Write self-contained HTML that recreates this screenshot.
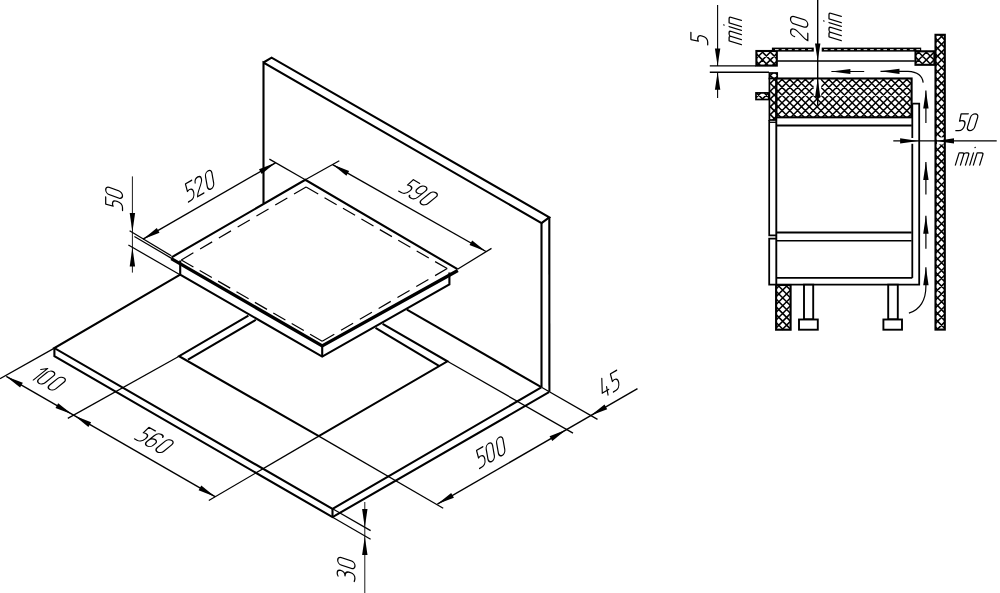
<!DOCTYPE html>
<html><head><meta charset="utf-8"><title>Hob installation</title>
<style>
html,body{margin:0;padding:0;background:#fff;font-family:"Liberation Sans",sans-serif;}
svg{display:block}
</style></head>
<body>
<svg width="1000" height="593" viewBox="0 0 1000 593">
<rect width="1000" height="593" fill="#fff"/>
<g stroke="#000" fill="none" stroke-linecap="butt" stroke-linejoin="miter">
<path d="M263.50,203.40 L263.50,62.50 L541.50,223.10 L541.50,387.30" stroke-width="2.1" fill="none" />
<path d="M263.50,62.50 L271.60,57.70 L549.30,217.30 L541.50,223.10" stroke-width="2.1" fill="none" />
<path d="M549.30,217.30 L549.40,391.80" stroke-width="2.1" fill="none" />
<path d="M406.90,309.70 L541.30,387.10" stroke-width="2.1" fill="none" />
<path d="M180.20,274.60 L54.40,348.10 L332.50,508.90 L541.30,387.40" stroke-width="2.1" fill="none" />
<path d="M54.40,348.10 L54.40,356.20 L332.50,517.10 L549.00,392.20" stroke-width="2.1" fill="none" />
<path d="M332.50,508.90 L332.50,517.10" stroke-width="2.1" fill="none" />
<path d="M248.40,315.60 L179.10,356.20 L318.80,436.10 L447.40,361.30 L382.60,323.90" stroke-width="2.1" fill="none" />
<path d="M188.00,359.60 L255.80,319.80" stroke-width="2.1" fill="none" />
<path d="M375.50,327.90 L439.40,366.20" stroke-width="2.1" fill="none" />
<path d="M171.60,257.30 L305.30,179.80 L457.50,269.20" stroke-width="2.1" fill="none" />
<path d="M171.30,258.60 L322.20,345.90 L457.80,270.50" stroke-width="3.4" fill="none" stroke-linejoin="miter"/>
<path d="M180.20,260.50 L180.20,274.60 L322.20,356.60 L449.40,284.40 L449.40,272.50" stroke-width="2.1" fill="none" />
<path d="M322.20,346.00 L322.20,356.60" stroke-width="2.1" fill="none" />
<line x1="181.30" y1="259.90" x2="306.10" y2="187.00" stroke-width="1.2" stroke-dasharray="14.00 7.76"/>
<line x1="322.20" y1="341.20" x2="447.20" y2="268.60" stroke-width="1.2" stroke-dasharray="14.00 7.76"/>
<line x1="181.30" y1="259.90" x2="322.20" y2="341.20" stroke-width="1.2" stroke-dasharray="14.00 7.24"/>
<line x1="306.10" y1="187.00" x2="447.20" y2="268.60" stroke-width="1.2" stroke-dasharray="14.00 7.29"/>
<line x1="132.40" y1="176.40" x2="132.40" y2="272.60" stroke-width="0.9" />
<path d="M132.40,232.20 L129.70,213.00 L135.10,213.00 Z" fill="#000" stroke="none"/>
<path d="M132.40,247.20 L135.10,266.40 L129.70,266.40 Z" fill="#000" stroke="none"/>
<line x1="171.30" y1="255.80" x2="129.60" y2="230.80" stroke-width="1.25" />
<line x1="172.00" y1="258.60" x2="134.40" y2="236.50" stroke-width="1.25" />
<line x1="180.00" y1="274.80" x2="128.40" y2="245.00" stroke-width="1.25" />
<line x1="143.00" y1="239.20" x2="275.50" y2="162.80" stroke-width="1.4" />
<path d="M143.00,239.20 L156.81,228.11 L159.51,232.79 Z" fill="#000" stroke="none"/>
<path d="M275.50,162.80 L261.69,173.89 L258.99,169.21 Z" fill="#000" stroke="none"/>
<line x1="305.30" y1="179.80" x2="269.40" y2="159.10" stroke-width="1.25" />
<line x1="332.60" y1="164.60" x2="486.00" y2="251.50" stroke-width="1.4" />
<path d="M332.60,164.60 L349.11,171.01 L346.41,175.69 Z" fill="#000" stroke="none"/>
<path d="M486.00,251.50 L469.49,245.09 L472.19,240.41 Z" fill="#000" stroke="none"/>
<line x1="305.30" y1="179.80" x2="339.30" y2="160.70" stroke-width="1.25" />
<line x1="457.50" y1="269.20" x2="491.50" y2="248.40" stroke-width="1.25" />
<line x1="6.30" y1="376.40" x2="215.10" y2="496.70" stroke-width="1.4" />
<path d="M6.30,376.40 L22.81,382.81 L20.11,387.49 Z" fill="#000" stroke="none"/>
<path d="M72.00,414.30 L55.49,407.89 L58.19,403.21 Z" fill="#000" stroke="none"/>
<path d="M74.60,415.80 L91.11,422.21 L88.41,426.89 Z" fill="#000" stroke="none"/>
<path d="M215.10,496.70 L198.59,490.29 L201.29,485.61 Z" fill="#000" stroke="none"/>
<line x1="54.40" y1="348.10" x2="0.00" y2="378.60" stroke-width="1.25" />
<line x1="179.10" y1="356.20" x2="67.80" y2="418.40" stroke-width="1.25" />
<line x1="318.80" y1="436.10" x2="208.80" y2="500.50" stroke-width="1.25" />
<line x1="437.40" y1="504.10" x2="637.50" y2="388.60" stroke-width="1.4" />
<path d="M437.40,504.10 L451.21,493.01 L453.91,497.69 Z" fill="#000" stroke="none"/>
<path d="M566.10,429.80 L552.29,440.89 L549.59,436.21 Z" fill="#000" stroke="none"/>
<path d="M590.70,415.60 L604.51,404.51 L607.21,409.19 Z" fill="#000" stroke="none"/>
<line x1="318.80" y1="436.10" x2="443.20" y2="508.30" stroke-width="1.25" />
<line x1="447.40" y1="361.30" x2="573.00" y2="433.10" stroke-width="1.25" />
<line x1="541.50" y1="387.30" x2="597.50" y2="419.40" stroke-width="1.25" />
<line x1="364.80" y1="502.00" x2="364.80" y2="593.00" stroke-width="0.9" />
<path d="M364.80,527.60 L362.10,508.90 L367.50,508.90 Z" fill="#000" stroke="none"/>
<path d="M364.80,536.40 L367.50,555.10 L362.10,555.10 Z" fill="#000" stroke="none"/>
<line x1="332.60" y1="508.80" x2="370.60" y2="530.60" stroke-width="1.25" />
<line x1="332.60" y1="517.20" x2="370.60" y2="539.20" stroke-width="1.25" />
</g>
<g transform="translate(122.50,210.50) rotate(-90) skewX(-20) scale(1.0)" fill="none" stroke="#000" stroke-width="1.250" stroke-linecap="round" stroke-linejoin="round">
<path transform="translate(0.00,0)" d="M7.4,-16.8 L0.2,-16.8 L0.9,-9.4 C3,-10.6 7.2,-10.4 7.2,-5.4 C7.2,-1.2 5,0 3,0 L0,0"/>
<path transform="translate(11.10,0)" d="M0,-3.6 L0,-13.2 A3.6,3.6 0 0 1 7.2,-13.2 L7.2,-3.6 A3.6,3.6 0 0 1 0,-3.6 Z"/>
</g>
<g transform="translate(188.40,202.00) rotate(-30) skewX(-20) scale(1.02)" fill="none" stroke="#000" stroke-width="1.225" stroke-linecap="round" stroke-linejoin="round">
<path transform="translate(0.00,0)" d="M7.4,-16.8 L0.2,-16.8 L0.9,-9.4 C3,-10.6 7.2,-10.4 7.2,-5.4 C7.2,-1.2 5,0 3,0 L0,0"/>
<path transform="translate(10.40,0)" d="M0,-12.8 C0,-18 7.2,-18 7.2,-12.8 C7.2,-9 0.5,-4.5 0,0 L7.2,0"/>
<path transform="translate(22.20,0)" d="M0,-3.6 L0,-13.2 A3.6,3.6 0 0 1 7.2,-13.2 L7.2,-3.6 A3.6,3.6 0 0 1 0,-3.6 Z"/>
</g>
<g transform="translate(398.80,191.10) rotate(30) skewX(-21) scale(1.02)" fill="none" stroke="#000" stroke-width="1.225" stroke-linecap="round" stroke-linejoin="round">
<path transform="translate(0.00,0)" d="M7.4,-16.8 L0.2,-16.8 L0.9,-9.4 C3,-10.6 7.2,-10.4 7.2,-5.4 C7.2,-1.2 5,0 3,0 L0,0"/>
<path transform="translate(10.40,0)" d="M0.1,-1.8 C0.8,0.4 7.2,1.6 7.2,-4.4 L7.2,-13.2 A3.6,3.6 0 0 0 0,-13.2 L0,-11 A3.6,3.6 0 0 0 7.2,-11"/>
<path transform="translate(22.20,0)" d="M0,-3.6 L0,-13.2 A3.6,3.6 0 0 1 7.2,-13.2 L7.2,-3.6 A3.6,3.6 0 0 1 0,-3.6 Z"/>
</g>
<g transform="translate(30.20,378.20) rotate(30) skewX(-21) scale(1.02)" fill="none" stroke="#000" stroke-width="1.225" stroke-linecap="round" stroke-linejoin="round">
<path transform="translate(0.00,0)" d="M0,-12.6 L3.6,-16.8 L3.6,0"/>
<path transform="translate(6.40,0)" d="M0,-3.6 L0,-13.2 A3.6,3.6 0 0 1 7.2,-13.2 L7.2,-3.6 A3.6,3.6 0 0 1 0,-3.6 Z"/>
<path transform="translate(18.40,0)" d="M0,-3.6 L0,-13.2 A3.6,3.6 0 0 1 7.2,-13.2 L7.2,-3.6 A3.6,3.6 0 0 1 0,-3.6 Z"/>
</g>
<g transform="translate(134.60,438.80) rotate(30) skewX(-21) scale(1.02)" fill="none" stroke="#000" stroke-width="1.225" stroke-linecap="round" stroke-linejoin="round">
<path transform="translate(0.00,0)" d="M7.4,-16.8 L0.2,-16.8 L0.9,-9.4 C3,-10.6 7.2,-10.4 7.2,-5.4 C7.2,-1.2 5,0 3,0 L0,0"/>
<path transform="translate(10.40,0)" d="M7.1,-15 C6.4,-17.2 0,-18.4 0,-12.4 L0,-3.6 A3.6,3.6 0 0 0 7.2,-3.6 L7.2,-5.8 A3.6,3.6 0 0 0 0,-5.8"/>
<path transform="translate(22.20,0)" d="M0,-3.6 L0,-13.2 A3.6,3.6 0 0 1 7.2,-13.2 L7.2,-3.6 A3.6,3.6 0 0 1 0,-3.6 Z"/>
</g>
<g transform="translate(479.50,468.50) rotate(-30) skewX(-20) scale(1.02)" fill="none" stroke="#000" stroke-width="1.225" stroke-linecap="round" stroke-linejoin="round">
<path transform="translate(0.00,0)" d="M7.4,-16.8 L0.2,-16.8 L0.9,-9.4 C3,-10.6 7.2,-10.4 7.2,-5.4 C7.2,-1.2 5,0 3,0 L0,0"/>
<path transform="translate(10.40,0)" d="M0,-3.6 L0,-13.2 A3.6,3.6 0 0 1 7.2,-13.2 L7.2,-3.6 A3.6,3.6 0 0 1 0,-3.6 Z"/>
<path transform="translate(22.20,0)" d="M0,-3.6 L0,-13.2 A3.6,3.6 0 0 1 7.2,-13.2 L7.2,-3.6 A3.6,3.6 0 0 1 0,-3.6 Z"/>
</g>
<g transform="translate(603.10,397.90) rotate(-30) skewX(-20) scale(1.02)" fill="none" stroke="#000" stroke-width="1.225" stroke-linecap="round" stroke-linejoin="round">
<path transform="translate(0.00,0)" d="M5.6,0 L5.6,-7.8 M2.2,-17.2 L0,-4.4 L7.4,-4.4"/>
<path transform="translate(11.60,0)" d="M7.4,-16.8 L0.2,-16.8 L0.9,-9.4 C3,-10.6 7.2,-10.4 7.2,-5.4 C7.2,-1.2 5,0 3,0 L0,0"/>
</g>
<g transform="translate(355.00,581.70) rotate(-90) skewX(-18) scale(1.03)" fill="none" stroke="#000" stroke-width="1.214" stroke-linecap="round" stroke-linejoin="round">
<path transform="translate(0.00,0)" d="M0.2,-16.5 C1.5,-17.6 6.4,-18.2 6.4,-13.8 C6.4,-11 4.5,-9.7 2.5,-9.7 C5.5,-9.7 7.5,-8 7.5,-4.4 C7.5,-1.2 5.5,-0.1 3.5,-0.1 C2,-0.1 0.8,-0.3 0,-0.8"/>
<path transform="translate(11.80,0)" d="M0,-3.6 L0,-13.2 A3.6,3.6 0 0 1 7.2,-13.2 L7.2,-3.6 A3.6,3.6 0 0 1 0,-3.6 Z"/>
</g>
<g stroke="#000" fill="none">
<rect x="935.50" y="34.80" width="9.30" height="294.80" fill="#fff" stroke="none"/>
<path d="M939.75,34.80 L944.80,39.85 M935.50,38.35 L944.80,47.65 M935.50,46.15 L944.80,55.45 M935.50,53.95 L944.80,63.25 M935.50,61.75 L944.80,71.05 M935.50,69.55 L944.80,78.85 M935.50,77.35 L944.80,86.65 M935.50,85.15 L944.80,94.45 M935.50,92.95 L944.80,102.25 M935.50,100.75 L944.80,110.05 M935.50,108.55 L944.80,117.85 M935.50,116.35 L944.80,125.65 M935.50,124.15 L944.80,133.45 M935.50,131.95 L944.80,141.25 M935.50,139.75 L944.80,149.05 M935.50,147.55 L944.80,156.85 M935.50,155.35 L944.80,164.65 M935.50,163.15 L944.80,172.45 M935.50,170.95 L944.80,180.25 M935.50,178.75 L944.80,188.05 M935.50,186.55 L944.80,195.85 M935.50,194.35 L944.80,203.65 M935.50,202.15 L944.80,211.45 M935.50,209.95 L944.80,219.25 M935.50,217.75 L944.80,227.05 M935.50,225.55 L944.80,234.85 M935.50,233.35 L944.80,242.65 M935.50,241.15 L944.80,250.45 M935.50,248.95 L944.80,258.25 M935.50,256.75 L944.80,266.05 M935.50,264.55 L944.80,273.85 M935.50,272.35 L944.80,281.65 M935.50,280.15 L944.80,289.45 M935.50,287.95 L944.80,297.25 M935.50,295.75 L944.80,305.05 M935.50,303.55 L944.80,312.85 M935.50,311.35 L944.80,320.65 M935.50,319.15 L944.80,328.45 M935.50,326.95 L938.15,329.60 M935.50,42.55 L943.25,34.80 M935.50,50.35 L944.80,41.05 M935.50,58.15 L944.80,48.85 M935.50,65.95 L944.80,56.65 M935.50,73.75 L944.80,64.45 M935.50,81.55 L944.80,72.25 M935.50,89.35 L944.80,80.05 M935.50,97.15 L944.80,87.85 M935.50,104.95 L944.80,95.65 M935.50,112.75 L944.80,103.45 M935.50,120.55 L944.80,111.25 M935.50,128.35 L944.80,119.05 M935.50,136.15 L944.80,126.85 M935.50,143.95 L944.80,134.65 M935.50,151.75 L944.80,142.45 M935.50,159.55 L944.80,150.25 M935.50,167.35 L944.80,158.05 M935.50,175.15 L944.80,165.85 M935.50,182.95 L944.80,173.65 M935.50,190.75 L944.80,181.45 M935.50,198.55 L944.80,189.25 M935.50,206.35 L944.80,197.05 M935.50,214.15 L944.80,204.85 M935.50,221.95 L944.80,212.65 M935.50,229.75 L944.80,220.45 M935.50,237.55 L944.80,228.25 M935.50,245.35 L944.80,236.05 M935.50,253.15 L944.80,243.85 M935.50,260.95 L944.80,251.65 M935.50,268.75 L944.80,259.45 M935.50,276.55 L944.80,267.25 M935.50,284.35 L944.80,275.05 M935.50,292.15 L944.80,282.85 M935.50,299.95 L944.80,290.65 M935.50,307.75 L944.80,298.45 M935.50,315.55 L944.80,306.25 M935.50,323.35 L944.80,314.05 M937.05,329.60 L944.80,321.85" stroke-width="1.55" fill="none"/>
<rect x="935.50" y="34.80" width="9.30" height="294.80" fill="none" stroke-width="2.1"/>
<rect x="756.40" y="51.00" width="20.40" height="14.60" fill="#fff" stroke="none"/>
<path d="M769.15,51.00 L776.80,58.65 M761.35,51.00 L775.95,65.60 M756.40,53.85 L768.15,65.60 M756.40,61.65 L760.35,65.60 M756.40,58.25 L763.65,51.00 M756.85,65.60 L771.45,51.00 M764.65,65.60 L776.80,53.45 M772.45,65.60 L776.80,61.25" stroke-width="1.55" fill="none"/>
<rect x="756.40" y="51.00" width="20.40" height="14.60" fill="none" stroke-width="2.1"/>
<rect x="915.50" y="51.30" width="18.90" height="13.50" fill="#fff" stroke="none"/>
<path d="M933.25,51.30 L934.40,52.45 M925.45,51.30 L934.40,60.25 M917.65,51.30 L931.15,64.80 M915.50,56.95 L923.35,64.80 M915.50,64.75 L915.55,64.80 M915.50,55.15 L919.35,51.30 M915.50,62.95 L927.15,51.30 M921.45,64.80 L934.40,51.85 M929.25,64.80 L934.40,59.65" stroke-width="1.55" fill="none"/>
<rect x="915.50" y="51.30" width="18.90" height="13.50" fill="none" stroke-width="2.1"/>
<rect x="771.9" y="47.6" width="41.9" height="4.0" fill="#000" stroke="none"/>
<rect x="821.7" y="47.6" width="99.5" height="4.0" fill="#000" stroke="none"/>
<line x1="775" y1="49.6" x2="813" y2="49.6" stroke="#fff" stroke-width="0.9" stroke-dasharray="3.6 3"/>
<line x1="824" y1="49.6" x2="920" y2="49.6" stroke="#fff" stroke-width="0.9" stroke-dasharray="3.6 3"/>
<line x1="777.30" y1="61.00" x2="914.80" y2="61.00" stroke-width="1.6" />
<rect x="769.40" y="73.00" width="7.80" height="5.50" fill="#fff" stroke="none"/>
<path d="M775.55,73.00 L777.20,74.65 M769.40,74.65 L773.25,78.50 M769.40,76.45 L772.85,73.00 M775.15,78.50 L777.20,76.45" stroke-width="1.55" fill="none"/>
<rect x="769.40" y="73.00" width="7.80" height="5.50" fill="none" stroke-width="1.7"/>
<rect x="769.40" y="78.50" width="6.80" height="41.50" fill="#fff" stroke="none"/>
<path d="M773.25,78.50 L776.20,81.45 M769.40,82.45 L776.20,89.25 M769.40,90.25 L776.20,97.05 M769.40,98.05 L776.20,104.85 M769.40,105.85 L776.20,112.65 M769.40,113.65 L775.75,120.00 M769.40,84.25 L775.15,78.50 M769.40,92.05 L776.20,85.25 M769.40,99.85 L776.20,93.05 M769.40,107.65 L776.20,100.85 M769.40,115.45 L776.20,108.65 M772.65,120.00 L776.20,116.45" stroke-width="1.55" fill="none"/>
<rect x="769.40" y="78.50" width="6.80" height="41.50" fill="none" stroke-width="1.7"/>
<rect x="776.40" y="78.50" width="135.20" height="38.80" fill="#fff" stroke="none"/>
<path d="M905.85,78.50 L911.60,84.25 M898.05,78.50 L911.60,92.05 M890.25,78.50 L911.60,99.85 M882.45,78.50 L911.60,107.65 M874.65,78.50 L911.60,115.45 M866.85,78.50 L905.65,117.30 M859.05,78.50 L897.85,117.30 M851.25,78.50 L890.05,117.30 M843.45,78.50 L882.25,117.30 M835.65,78.50 L874.45,117.30 M827.85,78.50 L866.65,117.30 M820.05,78.50 L858.85,117.30 M812.25,78.50 L851.05,117.30 M804.45,78.50 L843.25,117.30 M796.65,78.50 L835.45,117.30 M788.85,78.50 L827.65,117.30 M781.05,78.50 L819.85,117.30 M776.40,81.65 L812.05,117.30 M776.40,89.45 L804.25,117.30 M776.40,97.25 L796.45,117.30 M776.40,105.05 L788.65,117.30 M776.40,112.85 L780.85,117.30 M776.40,85.05 L782.95,78.50 M776.40,92.85 L790.75,78.50 M776.40,100.65 L798.55,78.50 M776.40,108.45 L806.35,78.50 M776.40,116.25 L814.15,78.50 M783.15,117.30 L821.95,78.50 M790.95,117.30 L829.75,78.50 M798.75,117.30 L837.55,78.50 M806.55,117.30 L845.35,78.50 M814.35,117.30 L853.15,78.50 M822.15,117.30 L860.95,78.50 M829.95,117.30 L868.75,78.50 M837.75,117.30 L876.55,78.50 M845.55,117.30 L884.35,78.50 M853.35,117.30 L892.15,78.50 M861.15,117.30 L899.95,78.50 M868.95,117.30 L907.75,78.50 M876.75,117.30 L911.60,82.45 M884.55,117.30 L911.60,90.25 M892.35,117.30 L911.60,98.05 M900.15,117.30 L911.60,105.85 M907.95,117.30 L911.60,113.65" stroke-width="1.55" fill="none"/>
<rect x="776.40" y="78.50" width="135.20" height="38.80" fill="none" stroke-width="2.1"/>
<rect x="813.6" y="79.6" width="7.6" height="16.0" fill="#fff" stroke="none"/>
<rect x="756.00" y="92.90" width="12.80" height="6.60" fill="#fff" stroke="none"/>
<path d="M764.25,92.90 L768.80,97.45 M756.45,92.90 L763.05,99.50 M756.00,97.65 L760.75,92.90 M761.95,99.50 L768.55,92.90" stroke-width="1.55" fill="none"/>
<rect x="756.00" y="92.90" width="12.80" height="6.60" fill="none" stroke-width="1.7"/>
<line x1="776.40" y1="125.50" x2="911.80" y2="125.50" stroke-width="1.8" />
<path d="M769.20,120.00 L769.20,235.30 L776.30,235.30" stroke-width="1.7" fill="none" />
<path d="M776.30,238.60 L769.20,238.60 L769.20,284.70 L919.20,284.70 L919.20,103.70 L912.30,103.70" stroke-width="1.8" fill="none" />
<path d="M769.20,122.30 L776.30,122.30" stroke-width="1.3" fill="none" />
<line x1="776.30" y1="117.20" x2="776.30" y2="284.70" stroke-width="1.9" />
<line x1="912.30" y1="103.70" x2="912.30" y2="277.90" stroke-width="1.8" />
<line x1="776.30" y1="277.90" x2="912.30" y2="277.90" stroke-width="1.8" />
<line x1="776.30" y1="232.50" x2="911.60" y2="232.50" stroke-width="1.9" />
<line x1="776.30" y1="240.70" x2="911.60" y2="240.70" stroke-width="1.6" />
<rect x="776.10" y="285.00" width="14.50" height="44.70" fill="#fff" stroke="none"/>
<path d="M785.45,285.00 L790.60,290.15 M777.65,285.00 L790.60,297.95 M776.10,291.25 L790.60,305.75 M776.10,299.05 L790.60,313.55 M776.10,306.85 L790.60,321.35 M776.10,314.65 L790.60,329.15 M776.10,322.45 L783.35,329.70 M776.10,288.85 L779.95,285.00 M776.10,296.65 L787.75,285.00 M776.10,304.45 L790.60,289.95 M776.10,312.25 L790.60,297.75 M776.10,320.05 L790.60,305.55 M776.10,327.85 L790.60,313.35 M782.05,329.70 L790.60,321.15 M789.85,329.70 L790.60,328.95" stroke-width="1.55" fill="none"/>
<rect x="776.10" y="285.00" width="14.50" height="44.70" fill="none" stroke-width="2.1"/>
<rect x="804.00" y="284.70" width="9.20" height="34.70" fill="#fff" stroke-width="1.9"/>
<rect x="799.00" y="319.50" width="18.80" height="10.20" fill="#fff" stroke-width="1.9"/>
<rect x="888.20" y="284.70" width="9.60" height="34.70" fill="#fff" stroke-width="1.9"/>
<rect x="883.40" y="319.50" width="18.60" height="10.20" fill="#fff" stroke-width="1.9"/>
<line x1="709.80" y1="65.90" x2="756.00" y2="65.90" stroke-width="1.4" />
<line x1="709.80" y1="72.30" x2="769.00" y2="72.30" stroke-width="1.4" />
<line x1="717.60" y1="5.00" x2="717.60" y2="65.90" stroke-width="1.1" />
<path d="M717.60,65.90 L714.90,48.40 L720.30,48.40 Z" fill="#000" stroke="none"/>
<line x1="717.60" y1="72.30" x2="717.60" y2="98.00" stroke-width="1.1" />
<path d="M717.60,72.30 L720.30,89.80 L714.90,89.80 Z" fill="#000" stroke="none"/>
<line x1="817.70" y1="0.00" x2="817.70" y2="105.30" stroke-width="1.4" />
<path d="M817.70,61.00 L815.00,43.50 L820.40,43.50 Z" fill="#000" stroke="none"/>
<path d="M817.70,78.60 L820.40,97.40 L815.00,97.40 Z" fill="#000" stroke="none"/>
<rect x="937.0" y="137.4" width="6.6" height="7.0" fill="#fff" stroke="none"/>
<rect x="910.8" y="138.0" width="3.2" height="5.8" fill="#fff" stroke="none"/>
<line x1="893.30" y1="140.90" x2="996.70" y2="140.90" stroke-width="1.4" />
<path d="M918.60,140.90 L900.10,143.60 L900.10,138.20 Z" fill="#000" stroke="none"/>
<path d="M936.00,140.90 L954.00,138.20 L954.00,143.60 Z" fill="#000" stroke="none"/>
<line x1="831.40" y1="71.50" x2="864.20" y2="71.50" stroke-width="1.2" />
<path d="M831.40,71.50 L850.40,68.90 L850.40,74.10 Z" fill="#000" stroke="none"/>
<path d="M880.5,71.3 L908,71.3 Q922,72 923.2,82.6" stroke-width="1.2"/>
<path d="M880.50,71.30 L899.50,68.70 L899.50,73.90 Z" fill="#000" stroke="none"/>
<line x1="925.90" y1="90.50" x2="925.90" y2="123.10" stroke-width="1.2" />
<path d="M925.90,90.50 L928.60,108.50 L923.20,108.50 Z" fill="#000" stroke="none"/>
<line x1="925.90" y1="161.90" x2="925.90" y2="194.50" stroke-width="1.2" />
<path d="M925.90,161.90 L928.60,179.90 L923.20,179.90 Z" fill="#000" stroke="none"/>
<line x1="925.90" y1="215.80" x2="925.90" y2="248.80" stroke-width="1.2" />
<path d="M925.90,215.80 L928.60,233.80 L923.20,233.80 Z" fill="#000" stroke="none"/>
<path d="M925.9,267.3 L925.9,286 C926,300 920,310 908.9,313.1" stroke-width="1.2"/>
<path d="M925.90,267.30 L928.60,285.30 L923.20,285.30 Z" fill="#000" stroke="none"/>
</g>
<g transform="translate(707.70,44.90) rotate(-90) skewX(-17) scale(1.0)" fill="none" stroke="#000" stroke-width="1.250" stroke-linecap="round" stroke-linejoin="round">
<path transform="translate(0.00,0)" d="M7.4,-16.8 L0.2,-16.8 L0.9,-9.4 C3,-10.6 7.2,-10.4 7.2,-5.4 C7.2,-1.2 5,0 3,0 L0,0"/>
</g>
<g transform="translate(741.40,44.70) rotate(-90) skewX(-17) scale(1.0)" fill="none" stroke="#000" stroke-width="1.250" stroke-linecap="round" stroke-linejoin="round">
<path d="M0,0 L0,-12.3 L3.3,-12.3 Q5.05,-12.3 5.05,-10.4 L5.05,0 M5.05,-10.700000000000001 Q5.2,-12.3 6.8,-12.3 L8.3,-12.3 Q10.1,-12.3 10.1,-10.4 L10.1,0 M14.4,0 L14.4,-12.3 M18,0 L18,-12.3 L22.3,-12.3 Q24.3,-12.3 24.3,-10.3 L24.3,0"/>
<circle cx="14.4" cy="-17.50" r="0.75" fill="#000" stroke="none"/>
</g>
<g transform="translate(807.80,40.70) rotate(-90) skewX(-17) scale(1.03)" fill="none" stroke="#000" stroke-width="1.214" stroke-linecap="round" stroke-linejoin="round">
<path transform="translate(0.00,0)" d="M0,-12.8 C0,-18 7.2,-18 7.2,-12.8 C7.2,-9 0.5,-4.5 0,0 L7.2,0"/>
<path transform="translate(12.20,0)" d="M0,-3.6 L0,-13.2 A3.6,3.6 0 0 1 7.2,-13.2 L7.2,-3.6 A3.6,3.6 0 0 1 0,-3.6 Z"/>
</g>
<g transform="translate(841.30,40.70) rotate(-90) skewX(-17) scale(1.0)" fill="none" stroke="#000" stroke-width="1.250" stroke-linecap="round" stroke-linejoin="round">
<path d="M0,0 L0,-12.3 L3.3,-12.3 Q5.05,-12.3 5.05,-10.4 L5.05,0 M5.05,-10.700000000000001 Q5.2,-12.3 6.8,-12.3 L8.3,-12.3 Q10.1,-12.3 10.1,-10.4 L10.1,0 M14.4,0 L14.4,-12.3 M18,0 L18,-12.3 L22.3,-12.3 Q24.3,-12.3 24.3,-10.3 L24.3,0"/>
<circle cx="14.4" cy="-17.50" r="0.75" fill="#000" stroke="none"/>
</g>
<g transform="translate(955.80,130.60) rotate(0) skewX(-17) scale(1.0)" fill="none" stroke="#000" stroke-width="1.250" stroke-linecap="round" stroke-linejoin="round">
<path transform="translate(0.00,0)" d="M7.4,-16.8 L0.2,-16.8 L0.9,-9.4 C3,-10.6 7.2,-10.4 7.2,-5.4 C7.2,-1.2 5,0 3,0 L0,0"/>
<path transform="translate(10.60,0)" d="M0,-3.6 L0,-13.2 A3.6,3.6 0 0 1 7.2,-13.2 L7.2,-3.6 A3.6,3.6 0 0 1 0,-3.6 Z"/>
</g>
<g transform="translate(955.40,165.05) rotate(0) skewX(-17) scale(1.0)" fill="none" stroke="#000" stroke-width="1.250" stroke-linecap="round" stroke-linejoin="round">
<path d="M0,0 L0,-12.3 L3.3,-12.3 Q5.05,-12.3 5.05,-10.4 L5.05,0 M5.05,-10.700000000000001 Q5.2,-12.3 6.8,-12.3 L8.3,-12.3 Q10.1,-12.3 10.1,-10.4 L10.1,0 M14.4,0 L14.4,-12.3 M18,0 L18,-12.3 L22.3,-12.3 Q24.3,-12.3 24.3,-10.3 L24.3,0"/>
<circle cx="14.4" cy="-17.50" r="0.75" fill="#000" stroke="none"/>
</g>
</svg>
</body></html>
